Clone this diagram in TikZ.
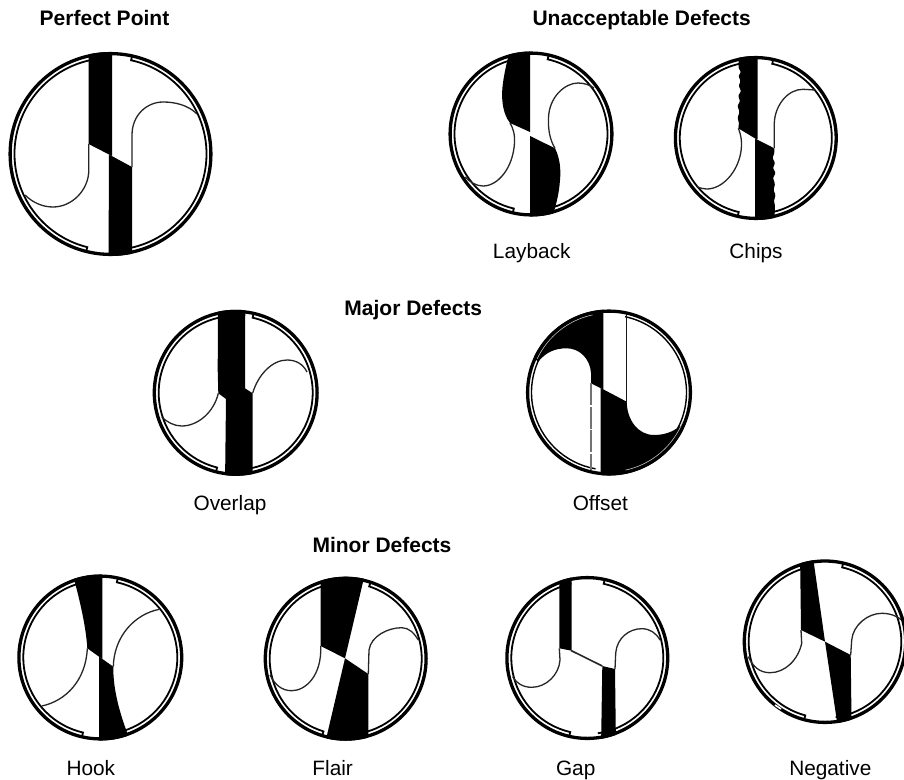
\documentclass[tikz,border=0pt]{standalone}
\usepackage{fontspec}
\setmainfont{Liberation Sans}
\tikzset{
  headlabel/.style={anchor=base,inner sep=0pt,font=\fontsize{21}{24}\selectfont\bfseries},
  namelabel/.style={anchor=base,inner sep=0pt,font=\fontsize{20.8}{24}\selectfont},
  rimline/.style={draw=black,line width=3.3pt},
  ringline/.style={draw=black,line width=1.8pt},
  curveline/.style={draw=black!85,line width=1.3pt},
  flute/.style={fill=black}
}
% cx cy R  top-right notch angle, bottom-left notch angle
\newcommand{\ringarcs}[5]{%
  \draw[ringline] ([shift={(#1,#2)}]258:#3pt-6pt) arc[start angle=258,end angle=#5,radius=#3pt-6pt] -- ([shift={(#1,#2)}]#5:#3pt-1pt);
  \draw[ringline] ([shift={(#1,#2)}]#4:#3pt-1pt) -- ([shift={(#1,#2)}]#4:#3pt-6pt) arc[start angle=#4,end angle=442,radius=#3pt-6pt];
}
\newcommand{\rimcircle}[3]{\draw[rimline] (#1,#2) circle[radius=#3pt-1.6pt];}
\newcommand{\flutes}[4]{\begin{scope}\clip (#1,#2) circle[radius=#3pt]; #4 \end{scope}}
\begin{document}
\begin{tikzpicture}[x=1pt,y=1pt,yscale=-1]
\useasboundingbox (0,0) rectangle (904,779);
\fill[white] (0,0) rectangle (904,779);

% Perfect Point
\ringarcs{110.5}{154}{102}{282.4}{104}
\flutes{110.5}{154}{102}{
  \fill[flute] (88.6,40) -- (88.6,144) -- (112,156) -- (112,40) -- cycle;
  \fill[flute] (109,154.5) -- (132,167) -- (132,265) -- (108.5,265) -- cycle;
}
\draw[curveline] (88.8,144) -- (88.8,170) .. controls (88.8,190) and (72,207) .. (53,207) .. controls (42,207) and (32,202) .. (25,195);
\draw[curveline] (132,167) -- (132,135) .. controls (132,115) and (147,102) .. (163,102) .. controls (175,102) and (188,105) .. (197,114);
\rimcircle{110.5}{154}{102}

% Layback
\ringarcs{531}{134}{82.5}{282.6}{103}
\flutes{531}{134}{82.5}{
  \fill[flute] (511,45) .. controls (506,66) and (501,85) .. (502.3,100) .. controls (503,110) and (506,118) .. (510,123) -- (530,132) -- (530,45) -- cycle;
  \fill[flute] (530,136) -- (555,148.3) .. controls (560,158) and (561,170) .. (560,180) .. controls (559,195) and (556,205) .. (550,225) -- (530,225) -- cycle;
}
\draw[curveline] (510,123) .. controls (513,128) and (515,134) .. (514.5,143) .. controls (513,168) and (498,186) .. (483,186) .. controls (476,186) and (470,182) .. (465,177);
\draw[curveline] (555,148.3) .. controls (550,140) and (548,130) .. (548.5,118) .. controls (549,97) and (565,83) .. (578,83) .. controls (584,83) and (590,85) .. (594,88);
\rimcircle{531}{134}{82.5}

% Chips
\ringarcs{755.8}{138}{82}{282.5}{103}
\flutes{755.8}{138}{82}{
  \fill[flute,rounded corners=1pt] (738.5,45) -- (738.5,68) -- (741,72) -- (738.5,76) -- (740.5,81) -- (738.8,86) -- (741,91) -- (738.2,96) -- (740,101) -- (737.5,106) -- (739.5,112) -- (737.5,118) -- (739,123) -- (738.3,128.3) -- (757.7,140) -- (757.7,45) -- cycle;
  \fill[flute,rounded corners=1pt] (755,138.5) -- (774.3,148.3) -- (774.3,153) -- (772.5,158) -- (775,163) -- (773,168) -- (775.5,173) -- (773,178) -- (775,184) -- (773.5,190) -- (775.5,195) -- (774,201) -- (775,206) -- (774,230) -- (755,230) -- cycle;
}
\draw[curveline] (738.3,128.3) .. controls (742,137) and (742,145) .. (740.7,153) .. controls (737,173) and (722,189) .. (706.7,189) .. controls (703,189) and (700,188) .. (696.7,186.7);
\draw[curveline] (774.3,148.3) -- (774.3,123) .. controls (775,105) and (788,89) .. (803.3,89.3) -- (815,90);
\rimcircle{755.8}{138}{82}

% Overlap
\ringarcs{235.7}{392.8}{83}{282.7}{104}
\flutes{235.7}{392.8}{83}{
  \fill[flute] (218,300) -- (217.7,370) -- (218.3,393.3) -- (226,399) -- (225,485) -- (252.7,485) -- (252.7,393.3) -- (245,388.3) -- (245.3,300) -- cycle;
}
\draw[curveline] (218.3,393.3) .. controls (214,412) and (198,426) .. (181.7,426) .. controls (174,426) and (167,422) .. (161.7,417);
\draw[curveline] (252.7,393) .. controls (258,375) and (272,360) .. (287,360) .. controls (296,360) and (303,364) .. (307,372);
\rimcircle{235.7}{392.8}{83}

% Offset
\draw[ringline,line width=1.4pt] ([shift={(609,392.5)}]258:77.5pt) arc[start angle=258,end angle=100,radius=77.5pt];
\draw[ringline,line width=1.4pt] ([shift={(609,392.5)}]282:77.5pt) arc[start angle=282,end angle=442,radius=77.5pt];
\flutes{609}{392.5}{83}{
  \fill[flute] (603.3,300) -- (603.3,389.5) -- (591,383.3) -- (591,373) .. controls (590,358) and (579,348.3) .. (566.7,348.3) .. controls (555,348.3) and (546,352) .. (538,362) -- (520,340) -- (560,300) -- cycle;
  \fill[flute] (600.7,388) -- (626.7,401.7) .. controls (627,420) and (638,435) .. (654,435) .. controls (664,435) and (673,432) .. (680,426) -- (700,440) -- (650,490) -- (600.7,490) -- cycle;
}
\draw[line width=1.4pt,black!90] (626.7,312) -- (626.7,401.7);
\draw[line width=1.2pt,black!55,dash pattern=on 22pt off 1.5pt] (591,383.3) -- (591,470);
\draw[white!75!black,line width=1pt] ([shift={(609,392.5)}]205:79.5pt) arc[start angle=205,end angle=258,radius=79.5pt];
\draw[white!75!black,line width=1pt] ([shift={(609,392.5)}]22:79.5pt) arc[start angle=22,end angle=78,radius=79.5pt];
\rimcircle{609}{392.5}{83}

% Hook
\ringarcs{100.3}{657.5}{83}{282.4}{103}
\flutes{100.3}{657.5}{83}{
  \fill[flute] (70,565) .. controls (78,592) and (86,625) .. (87.3,648.3) -- (102.3,659) -- (102.3,565) -- cycle;
  \fill[flute] (99,656.6) -- (113.3,666.7) .. controls (113,690) and (120,715) .. (130,740) -- (99,750) -- cycle;
}
\draw[curveline] (87.3,648.3) .. controls (86,680) and (66,701) .. (41.7,706);
\draw[curveline] (113.3,666.7) .. controls (114,636) and (135,614) .. (159.3,609.3);
\rimcircle{100.3}{657.5}{83}

% Flair
\ringarcs{345.7}{658.7}{82}{288}{107}
\flutes{345.7}{658.7}{82}{
  \fill[flute] (320.7,565) -- (320.7,646) -- (345,658.3) -- (367,565) -- cycle;
  \fill[flute] (345,658.3) -- (368.3,674) -- (368.3,750) -- (323.5,750) -- cycle;
}
\draw[curveline] (320.7,646) .. controls (322,675) and (306,690.7) .. (291.7,690.7) .. controls (282,690.7) and (275,685) .. (270,675);
\draw[curveline] (368.3,674) -- (369,650) .. controls (371,636) and (388,627.7) .. (401.7,627.7) .. controls (409,627.7) and (414,633) .. (418.3,640);
\rimcircle{345.7}{658.7}{82}

% Gap
\ringarcs{587.3}{658}{82}{282.5}{103}
\flutes{587.3}{658}{82}{
  \fill[flute] (559.3,565) -- (559.3,648.3) -- (571.7,650.7) -- (571.7,565) -- cycle;
  \fill[flute] (602.3,666) -- (615,669) -- (616,750) -- (601,750) -- cycle;
}
\draw[curveline,line width=1.6pt] (571,650.5) -- (602.3,666);
\draw[curveline] (559.3,648.3) -- (560,660) .. controls (559,675) and (546,687.3) .. (531.7,687.3) .. controls (523,687.3) and (516,683) .. (512.7,676.7);
\draw[curveline] (615,669) -- (615.7,653) .. controls (617,638) and (629,628.7) .. (641.7,628.7) .. controls (650,628.7) and (656,633) .. (660,640);
\rimcircle{587.3}{658}{82}

% Negative
\ringarcs{825}{641.7}{82.3}{283}{105}
\flutes{825}{641.7}{82.3}{
  \fill[flute] (800,550) -- (801,630) -- (825,641.7) -- (812,550) -- cycle;
  \fill[flute] (825,641.7) -- (850.7,655) -- (851.7,735) -- (839,735) -- cycle;
}
\draw[curveline] (801,630) -- (801.7,643.3) .. controls (798,660) and (785,672.7) .. (770,672.7) .. controls (760,672.7) and (753,667) .. (748.3,656.7);
\draw[curveline] (850.7,655) -- (851.7,640) .. controls (853,625) and (868,613.3) .. (881.7,613.3) .. controls (890,613.3) and (897,616) .. (901.7,620);
\rimcircle{825}{641.7}{82.3}
\draw[white,line width=1.6pt] (775,705) -- (781,709);

% Labels
\node[headlabel] (perfect) at (104.5,25) {Perfect Point};
\node[headlabel] (unacceptable) at (641.7,25) {Unacceptable Defects};
\node[headlabel] (major) at (413.3,315) {Major Defects};
\node[headlabel] (minor) at (382,552) {Minor Defects};
\node[namelabel] (layback) at (531.7,258) {Layback};
\node[namelabel] (chips) at (756,258) {Chips};
\node[namelabel] (overlap) at (230,510) {Overlap};
\node[namelabel] (offset) at (600.3,510) {Offset};
\node[namelabel] (hook) at (90.8,775) {Hook};
\node[namelabel] (flair) at (332.7,775) {Flair};
\node[namelabel] (gap) at (575.7,775) {Gap};
\node[namelabel] (negative) at (830.3,775) {Negative};
\end{tikzpicture}
\end{document}
